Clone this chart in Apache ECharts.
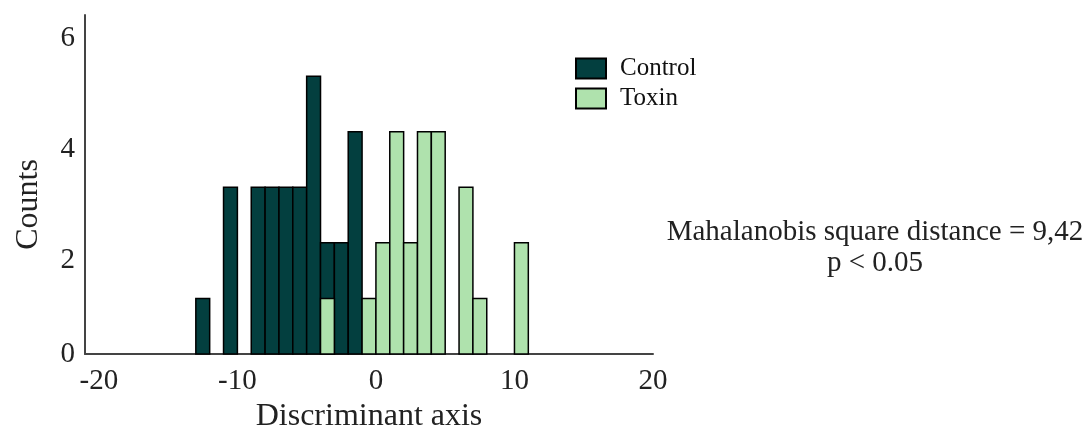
<!DOCTYPE html>
<html>
<head>
<meta charset="utf-8">
<script src="https://cdn.jsdelivr.net/npm/echarts@6/dist/echarts.min.js"></script>
<style>
  html, body { margin: 0; padding: 0; background: #fff; }
  #chart { width: 1088px; height: 427px; }
</style>
</head>
<body>
<div id="chart"></div>
<script>
// histogram bins: left edge of each 1-unit bin
const binStarts = [-13, -12, -11, -10, -9, -8, -7, -6, -5, -4, -3, -2, -1, 0, 1, 2, 3, 4, 5, 6, 7, 8, 9, 10];
const controlCounts = [1, 0, 3, 0, 3, 3, 3, 3, 5, 2, 2, 4, 0, 0, 0, 0, 0, 0, 0, 0, 0, 0, 0, 0];
const toxinCounts   = [0, 0, 0, 0, 0, 0, 0, 0, 0, 1, 0, 0, 1, 2, 4, 2, 4, 4, 0, 3, 1, 0, 0, 2];
const binWidth = 1;
const xTicks = [-20, -10, 0, 10, 20];
const yTicks = [0, 2, 4, 6];

const serif = '"Liberation Serif", "DejaVu Serif", serif';

function toData(counts) {
    let out = [];
    counts.forEach((c, i) => {
        if (c > 0) out.push([binStarts[i], binStarts[i] + binWidth, c]);
    });
    return out;
}

// 直方图柱子，用坐标轴换算
function renderBin(params, api) {
    let p0 = api.coord([api.value(0), 0]);
    let p1 = api.coord([api.value(1), api.value(2)]);
    return {
        type: 'rect',
        shape: { x: p0[0], y: p1[1], width: p1[0] - p0[0], height: p0[1] - p1[1] },
        style: api.style()
    };
}

let chart = echarts.init(document.getElementById('chart'));
let option = {
    animation: false,
    backgroundColor: '#fff',
    grid: { left: 85, right: 435, top: 15, bottom: 73, outerBoundsMode: 'none' },
    legend: {
        left: 575,
        top: 56,
        padding: 0,
        orient: 'vertical',
        itemWidth: 30,
        itemHeight: 20,
        itemGap: 5,
        icon: 'rect',
        textStyle: { fontFamily: serif, fontSize: 25, color: '#111', padding: [0, 0, 0, 9] },
        data: ['Control', 'Toxin']
    },
    xAxis: {
        type: 'value',
        min: -21,
        max: 20,
        name: 'Discriminant axis',
        nameLocation: 'middle',
        nameGap: 44,
        nameTextStyle: { fontFamily: serif, fontSize: 32, color: '#222' },
        axisLine: { lineStyle: { color: '#444', width: 2 } },
        axisTick: { show: false },
        splitLine: { show: false },
        axisLabel: {
            customValues: xTicks,
            margin: 13,
            fontFamily: serif,
            fontSize: 29,
            color: '#222'
        }
    },
    yAxis: {
        type: 'value',
        min: 0,
        max: 6.1,
        name: 'Counts',
        nameLocation: 'middle',
        nameRotate: 90,
        nameGap: 40,
        nameTextStyle: { fontFamily: serif, fontSize: 32, color: '#222', padding: [0, 0, 0, -40] },
        axisLine: { show: true, onZero: false, lineStyle: { color: '#444', width: 2 } },
        axisTick: { show: false },
        splitLine: { show: false },
        axisLabel: {
            customValues: yTicks,
            margin: 10,
            formatter: (v) => v === 0 ? '{z|0}' : '{s|' + v + '}',
            rich: {
                z: { fontFamily: serif, fontSize: 29, color: '#222' },
                s: { fontFamily: serif, fontSize: 29, color: '#222', padding: [36, 0, 0, 0] }
            }
        }
    },
    series: [
        {
            name: 'Control',
            type: 'custom',
            renderItem: renderBin,
            encode: { x: [0, 1], y: 2 },
            itemStyle: { color: '#033f3f', borderColor: '#000', borderWidth: 1.5 },
            data: toData(controlCounts)
        },
        {
            name: 'Toxin',
            type: 'custom',
            renderItem: renderBin,
            encode: { x: [0, 1], y: 2 },
            itemStyle: { color: '#afe2ad', borderColor: '#000', borderWidth: 1.5 },
            data: toData(toxinCounts)
        }
    ],
    graphic: [
        {
            type: 'text',
            x: 875,
            y: 248,
            style: {
                text: 'Mahalanobis square distance = 9,42\np < 0.05',
                align: 'center',
                verticalAlign: 'middle',
                fontFamily: serif,
                fontSize: 29,
                lineHeight: 31,
                fill: '#222'
            }
        }
    ]
};
chart.setOption(option);
</script>
</body>
</html>
